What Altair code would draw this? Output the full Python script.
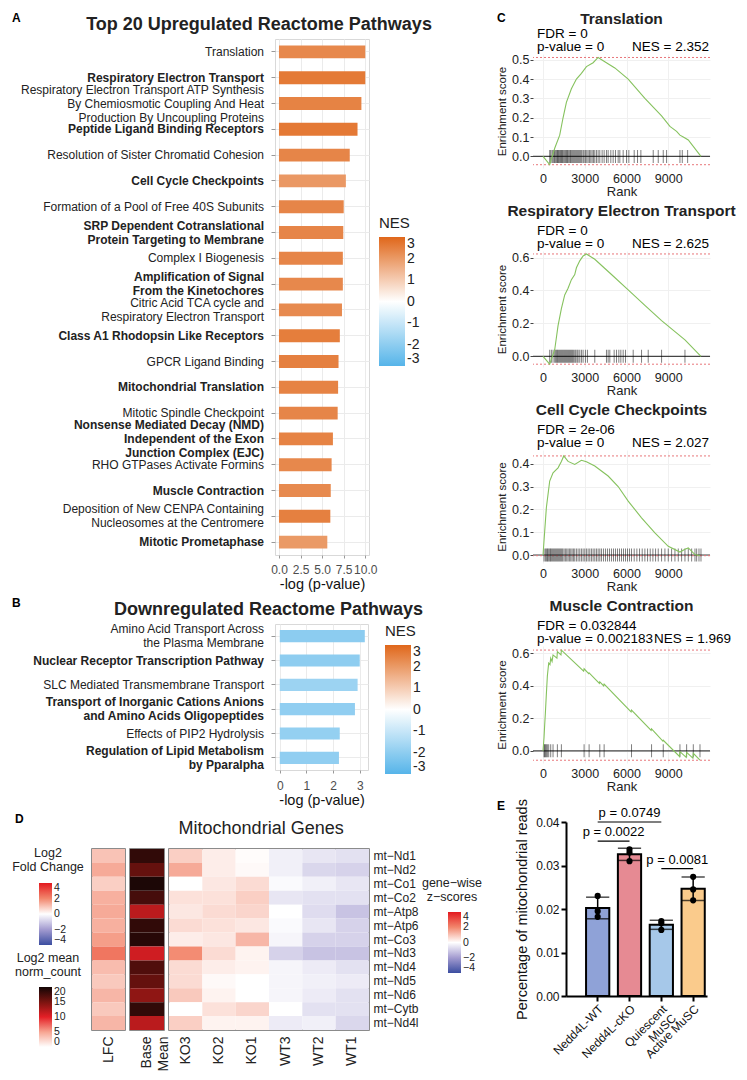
import altair as alt
import pandas as pd

FONT = "Liberation Sans"

# ---------------- Panel A : upregulated pathways ----------------
up_pathways = [
    "Translation",
    "Respiratory Electron Transport",
    "Respiratory Electron Transport ATP Synthesis\nBy Chemiosmotic  Coupling And Heat\nProduction By Uncoupling Proteins",
    "Peptide Ligand Binding Receptors",
    "Resolution of Sister Chromatid Cohesion",
    "Cell Cycle Checkpoints",
    "Formation of a Pool of Free 40S Subunits",
    "SRP Dependent Cotranslational\nProtein Targeting to Membrane",
    "Complex I Biogenesis",
    "Amplification of Signal\nFrom the Kinetochores",
    "Citric Acid TCA cycle and\nRespiratory Electron Transport",
    "Class A1 Rhodopsin Like Receptors",
    "GPCR Ligand Binding",
    "Mitochondrial Translation",
    "Mitotic Spindle Checkpoint",
    "Nonsense Mediated Decay (NMD)\nIndependent of the Exon\nJunction Complex (EJC)",
    "RHO GTPases Activate Formins",
    "Muscle Contraction",
    "Deposition of New CENPA Containing\nNucleosomes at the Centromere",
    "Mitotic Prometaphase",
]
up_logp = [10.0, 10.0, 9.55, 9.1, 8.2, 7.75, 7.5, 7.45, 7.4, 7.4,
           7.3, 7.05, 6.9, 6.85, 6.8, 6.25, 6.1, 6.0, 5.95, 5.6]
up_nes = [2.35, 2.63, 2.45, 2.65, 2.4, 2.03, 2.4, 2.4, 2.4, 2.35,
          2.3, 2.55, 2.5, 2.45, 2.4, 2.45, 2.35, 2.3, 2.5, 2.0]

# ---------------- Panel B : downregulated pathways ----------------
down_pathways = [
    "Amino Acid Transport Across\nthe Plasma Membrane",
    "Nuclear Receptor Transcription Pathway",
    "SLC Mediated Transmembrane Transport",
    "Transport of Inorganic Cations Anions\nand Amino Acids Oligopeptides",
    "Effects of PIP2 Hydrolysis",
    "Regulation of Lipid Metabolism\nby Pparalpha",
]
down_logp = [3.19, 3.0, 2.92, 2.82, 2.25, 2.22]
down_nes = [-2.05, -2.0, -1.75, -1.95, -1.9, -1.95]

# ---------------- Panel C : GSEA running enrichment ----------------
gsea_titles = ["Translation", "Respiratory Electron Transport",
               "Cell Cycle Checkpoints", "Muscle Contraction"]
gsea_fdr = ["FDR = 0", "FDR = 0", "FDR = 2e-06", "FDR = 0.032844"]
gsea_pval = ["p-value = 0", "p-value = 0", "p-value = 0", "p-value = 0.002183"]
gsea_nes = ["NES = 2.352", "NES = 2.625", "NES = 2.027", "NES = 1.969"]

tr_rank = [0, 480, 840, 1200, 1440, 1680, 2040, 2400, 2760, 3120, 3600, 3960,
           4440, 5160, 6120, 7320, 8520, 9120, 9600, 9840, 10080, 10440, 11350]
tr_es = [0, -0.043, 0.042, 0.11, 0.20, 0.28, 0.35, 0.40, 0.43, 0.465, 0.485, 0.512,
         0.49, 0.458, 0.40, 0.30, 0.21, 0.155, 0.13, 0.11, 0.10, 0.085, 0.0]
tr_hits = [480, 552, 648, 720, 792, 840, 912, 984, 1032, 1080, 1128, 1200, 1248,
           1320, 1368, 1416, 1488, 1560, 1632, 1680, 1752, 1800, 1872, 1944, 1992,
           2064, 2136, 2208, 2280, 2352, 2424, 2496, 2568, 2640, 2712, 2784, 2880,
           2952, 3048, 3144, 3240, 3336, 3432, 3528, 3624, 3720, 3840, 3960, 4080,
           4248, 4392, 4560, 4680, 4872, 5040, 5208, 5400, 5520, 5760, 6000, 6168,
           6552, 6792, 7032, 7920, 8280, 8640, 8880, 9840, 10008, 10392]

rs_rank = [0, 480, 840, 1080, 1320, 1560, 1800, 2040, 2280, 2400, 2640, 2880,
           3120, 3720, 4920, 6120, 7320, 8520, 10200, 11350]
rs_es = [0, -0.048, 0.04, 0.186, 0.29, 0.373, 0.414, 0.466, 0.497, 0.538, 0.58,
         0.61, 0.622, 0.59, 0.497, 0.404, 0.31, 0.217, 0.10, 0.0]
rs_hits = [480, 600, 720, 840, 912, 984, 1032, 1104, 1176, 1248, 1320, 1392, 1464,
           1536, 1608, 1680, 1752, 1824, 1896, 1968, 2040, 2112, 2184, 2280, 2352,
           2448, 2520, 2640, 2760, 2880, 3048, 3192, 3720, 4560, 4680, 4800, 5112,
           5280, 5448, 5592, 5760, 5928, 6480, 7080, 7560, 8520, 10200]

cc_rank = [0, 120, 240, 480, 720, 1080, 1320, 1490, 1800, 2280, 2760, 3120, 3720,
           4680, 5400, 6120, 7080, 8040, 9000, 9840, 10200, 10440, 10920, 11280]
cc_es = [0, 0.104, 0.207, 0.324, 0.36, 0.382, 0.41, 0.434, 0.41, 0.397, 0.415,
         0.409, 0.39, 0.346, 0.30, 0.236, 0.163, 0.097, 0.038, 0.013, 0.025, 0.031,
         0.002, -0.003]
cc_hits = [72, 168, 240, 312, 360, 432, 504, 552, 624, 696, 768, 840, 912, 984, 1056,
           1128, 1200, 1272, 1344, 1416, 1512, 1608, 1704, 1800, 1896, 1992, 2088,
           2184, 2280, 2400, 2520, 2640, 2760, 2880, 3000, 3120, 3240, 3360, 3480,
           3600, 3720, 3840, 3960, 4080, 4200, 4344, 4488, 4632, 4776, 4920, 5064,
           5208, 5352, 5496, 5640, 5784, 5928, 6072, 6216, 6360, 6552, 6744, 6936,
           7128, 7320, 7512, 7704, 7896, 8088, 8280, 8520, 8760, 9000, 9240, 9480,
           9720, 9960, 10200, 10440, 10680, 10920, 11040, 11208, 11352]

mc_rank = [0, 72, 120, 168, 240, 312, 408, 500, 552, 650, 720, 1000, 1032, 1290,
           1320, 2920, 2952, 3280, 3312, 4050, 4080, 4360, 4392, 6330, 6360, 7770,
           7800, 8610, 8640, 9810, 9840, 10290, 10320, 10770, 10800, 11280]
mc_es = [0, 0.08, 0.16, 0.23, 0.35, 0.46, 0.54, 0.53, 0.57, 0.55, 0.59, 0.57, 0.61,
         0.59, 0.62, 0.49, 0.505, 0.475, 0.48, 0.415, 0.425, 0.40, 0.41, 0.24, 0.25,
         0.125, 0.135, 0.06, 0.065, -0.035, -0.005, -0.04, -0.01, -0.045, -0.015,
         -0.058]
mc_hits = [72, 120, 168, 240, 312, 408, 552, 720, 1032, 1320, 2952, 3312, 4080,
           4392, 6360, 7800, 8640, 9840, 10320, 10800, 11280]

# ---------------- Panel D : mitochondrial genes heatmap ----------------
genes = ["mt\u2212Nd1", "mt\u2212Nd2", "mt\u2212Co1", "mt\u2212Co2", "mt\u2212Atp8",
         "mt\u2212Atp6", "mt\u2212Co3", "mt\u2212Nd3", "mt\u2212Nd4", "mt\u2212Nd5",
         "mt\u2212Nd6", "mt\u2212Cytb", "mt\u2212Nd4l"]
lfc = [1.0, 1.4, 0.8, 1.3, 1.4, 1.3, 1.6, 2.3, 1.1, 0.9, 1.2, 0.9, 1.2]
base_mean = [18.5, 16.0, 19.5, 17.5, 12.0, 18.5, 19.0, 11.0, 17.0, 16.0, 14.0, 18.5, 12.0]
samples = ["KO3", "KO2", "KO1", "WT3", "WT2", "WT1"]
z_KO3 = [0.8, 1.4, 0.0, 0.5, 0.4, 0.6, 0.3, 1.9, 0.6, 0.6, 0.9, 0.0, 0.8]
z_KO2 = [0.3, 0.3, 0.4, 0.5, 0.6, 0.5, 0.4, 0.6, 0.3, 0.1, 0.2, 0.5, 0.2]
z_KO1 = [0.05, 0.1, 0.6, 0.8, 0.7, 0.4, 1.2, 0.2, 0.2, 0.0, 0.0, 0.7, 0.2]
z_WT3 = [-0.3, -0.3, -0.1, -0.5, 0.0, -0.1, -0.2, -0.9, -0.2, -0.2, -0.2, 0.0, -0.4]
z_WT2 = [-0.5, -0.8, -0.3, -0.6, -0.7, -0.5, -0.9, -1.2, -0.4, -0.3, -0.4, -0.6, -0.3]
z_WT1 = [-0.6, -0.9, -0.5, -0.6, -1.2, -0.9, -0.9, -1.2, -0.6, -0.4, -0.6, -0.6, -0.8]

# ---------------- Panel E : mitochondrial reads ----------------
e_groups = ["Nedd4L-WT", "Nedd4L-cKO", "Quiescent\nMuSC", "Active MuSC"]
e_rep1 = [0.0230, 0.0337, 0.0172, 0.0274]
e_rep2 = [0.0195, 0.0330, 0.0167, 0.0245]
e_rep3 = [0.0182, 0.0310, 0.0152, 0.0220]
cmp_from = ["Nedd4L-WT", "Nedd4L-WT", "Quiescent\nMuSC"]
cmp_to = ["Nedd4L-cKO", "Quiescent\nMuSC", "Active MuSC"]
cmp_y = [0.0356, 0.0400, 0.0293]
cmp_text = ["p = 0.0022", "p = 0.0749", "p = 0.0081"]

E_COLORS = ["#8FA2D7", "#E68A93", "#A6C8E9", "#FACB8C"]
GREEN = "#86C25E"

NES_SCALE = alt.Scale(domain=[-3, 0, 3], range=["#56B4E9", "#FFFFFF", "#E0671A"],
                      interpolate="rgb")
INDEP = dict(color="independent", x="independent", y="independent")


def letter_mark(letter, x, y):
    return alt.Chart(pd.DataFrame({"t": [letter]})).mark_text(
        fontWeight="bold", fontSize=12, align="left", baseline="top", color="black"
    ).encode(text="t:N", x=alt.value(x), y=alt.value(y))


def pad_mark(x, y):
    # invisible point that only reserves layout room
    return alt.Chart(pd.DataFrame({"a": [0]})).mark_point(opacity=0, size=1).encode(
        x=alt.value(x), y=alt.value(y))


def spacer():
    return pad_mark(0, 0).properties(width=1, height=1)


def shifted(ch):
    # an invisible 1px anchor first, so panels in one column line up by their left bounds
    return alt.hconcat(spacer(), ch, spacing=0).resolve_scale(**INDEP)


def pathway_panel(names, logp, nes, title, width, height, xdomain, xticks, xfmt,
                  legend_x, legend_y, grad_len, letter, title_dx, title_offset,
                  label_pad):
    keys = [f"{i:02d}" for i in range(len(names))]
    df = pd.DataFrame({"key": keys, "logp": logp, "nes": nes})
    yaxis = alt.Axis(labels=False, title=None, tickSize=4, tickColor="#999",
                     domain=False, grid=True, gridColor="#EBEBEB")
    yenc = alt.Y("key:N", sort=keys, title=None,
                 scale=alt.Scale(paddingInner=0.5, paddingOuter=0.25), axis=yaxis)
    bars = alt.Chart(df).mark_bar().encode(
        y=yenc,
        x=alt.X("logp:Q", title="-log (p-value)",
                scale=alt.Scale(domain=xdomain, nice=False, zero=False),
                axis=alt.Axis(values=xticks, format=xfmt, labelFontSize=12,
                              labelColor="#4D4D4D", titleFontSize=14.5,
                              titleFontWeight="normal", titleColor="#111",
                              domain=False, tickSize=3, tickColor="#999", grid=True,
                              gridColor="#EBEBEB", titlePadding=2,
                              labelPadding=label_pad, labelOverlap=False)),
        color=alt.Color("nes:Q", scale=NES_SCALE, legend=alt.Legend(
            title="NES", orient="none", legendX=legend_x, legendY=legend_y,
            direction="vertical", gradientLength=grad_len, gradientThickness=26,
            values=[3, 2, 1, 0, -1, -2, -3], labelExpr="'' + datum.value",
            labelFontSize=14, titleFontSize=15, titleFontWeight="normal",
            labelColor="#222", titleColor="#222", titlePadding=6,
            gradientStrokeWidth=0, labelOverlap=False)),
    )
    rows = []
    for i, (k, name) in enumerate(zip(keys, names)):
        lines = name.split("\n")
        for j, line in enumerate(lines):
            rows.append({"key": k, "line": line, "j": j, "n": len(lines),
                         "bold": i % 2 == 1})
    lab_df = pd.DataFrame(rows)
    labels = alt.Chart(lab_df).mark_text(
        align="right", baseline="middle", fontSize=12, color="#222",
        dy={"expr": "(datum.j - (datum.n - 1) / 2) * 14"},
        fontWeight={"expr": "datum.bold ? 'bold' : 'normal'"},
    ).encode(y=yenc, x=alt.value(-11), text="line:N")
    return alt.layer(bars, labels, letter_mark(letter, -263, -26)).properties(
        width=width, height=height,
        view=alt.ViewBackground(stroke="#D9D9D9"),
        title=alt.TitleParams(title, fontSize=18, fontWeight="bold", anchor="middle",
                              frame="group", dx=title_dx, offset=title_offset,
                              color="#222"))


panel_a = pathway_panel(up_pathways, up_logp, up_nes,
                        "Top 20 Upregulated Reactome Pathways", 94, 516,
                        [-0.46, 10.43], [0, 2.5, 5, 7.5, 10], ".1f",
                        104, 177, 129, "A", -63, -22, 6)
panel_b = pathway_panel(down_pathways, down_logp, down_nes,
                        "Downregulated Reactome Pathways", 93, 146,
                        [-0.18, 3.31], [0, 1, 2, 3], "d",
                        110, 0, 129, "B", -53, -22, 7)


# ---------------- GSEA panels ----------------
def gsea_panel(i, rank, es, hits, ystep, ydomain, height, letter=None):
    xscale = alt.Scale(domain=[-720, 12000], nice=False, zero=False)
    yscale = alt.Scale(domain=ydomain, nice=False, zero=False)
    xenc = alt.X("rank:Q", scale=xscale, axis=alt.Axis(
        values=[0, 3000, 6000, 9000], format="d", title="Rank", labelFontSize=12.5,
        titleFontSize=13, titleFontWeight="normal", labelColor="#222",
        titleColor="#222", domain=False, ticks=False, grid=True, gridColor="#F0F0F0",
        labelPadding=4, titlePadding=1, labelOverlap=False))
    yenc = alt.Y("es:Q", scale=yscale, axis=alt.Axis(
        tickMinStep=ystep, tickCount=int(round((ydomain[1] - ydomain[0]) / ystep)),
        format=".1f", title="Enrichment score", labelFontSize=12.5,
        titleFontSize=11.5, titleFontWeight="normal", labelColor="#222",
        titleColor="#222", domain=False, ticks=True, tickSize=3, tickColor="#444",
        grid=True, gridColor="#F0F0F0", labelPadding=1, titlePadding=4,
        labelOverlap=False, labelSeparation=0))
    zero = alt.Chart(pd.DataFrame({"es": [0.0]})).mark_rule(
        color="#444", strokeWidth=1.2).encode(y=yenc)
    lims = alt.Chart(pd.DataFrame({"es": [max(es), min(es)]})).mark_rule(
        color="#E8767A", strokeDash=[2, 2], strokeWidth=1).encode(y=yenc)
    ticks = alt.Chart(pd.DataFrame({"rank": hits, "es": [0.0] * len(hits)})).mark_tick(
        orient="vertical", size=13, thickness=1, color="black", opacity=0.5
    ).encode(x=xenc, y=yenc)
    curve = alt.Chart(pd.DataFrame({"rank": rank, "es": es})).mark_line(
        color=GREEN, strokeWidth=1.1).encode(x=xenc, y=yenc)

    def txt(s, x, y, align="left"):
        return alt.Chart(pd.DataFrame({"t": [s]})).mark_text(
            align=align, baseline="middle", fontSize=13.5, color="black"
        ).encode(text="t:N", x=alt.value(x), y=alt.value(y))

    nes_x = 99 if len(gsea_pval[i]) < 14 else 121
    layers = [zero, lims, ticks, curve,
              txt(gsea_fdr[i], 4, -20), txt(gsea_pval[i], 4, -7),
              txt(gsea_nes[i], nes_x, -7)]
    offset = 5
    if letter:
        layers.append(letter_mark(letter, -36, -41))
        offset = -15
    return alt.layer(*layers).properties(
        width=177, height=height,
        title=alt.TitleParams(gsea_titles[i], fontSize=15.5, fontWeight="bold",
                              anchor="middle", frame="group", offset=offset,
                              color="#222"))


c1 = gsea_panel(0, tr_rank, tr_es, tr_hits, 0.1, [-0.06, 0.53], 114, letter="C")
c2 = gsea_panel(1, rs_rank, rs_es, rs_hits, 0.2, [-0.065, 0.64], 116)
c3 = gsea_panel(2, cc_rank, cc_es, cc_hits, 0.1, [-0.035, 0.46], 113)
c4 = gsea_panel(3, mc_rank, mc_es, mc_hits, 0.2, [-0.075, 0.645], 117)

# ---------------- Heatmap panel D ----------------
HEAT_DIV = alt.Scale(domain=[-4, -2, 0, 2, 4],
                     range=["#3B4DA0", "#A39BD0", "#FFFFFF", "#F2866C", "#E3191E"],
                     interpolate="rgb")
BM_SCALE = alt.Scale(domain=[0, 5, 10, 15, 20],
                     range=["#FFFFFF", "#F7A592", "#E41F26", "#7A1410", "#120505"],
                     interpolate="rgb")
HEAT_H = 181
cell_axis = dict(title=None, labelAngle=-90, labelFontSize=14, labelColor="#222",
                 ticks=False, domain=False, labelPadding=6,
                 labelExpr="split(datum.label, '\\n')", labelLineHeight=17)
legend_common = dict(orient="none", title=None, direction="vertical",
                     gradientThickness=13, labelFontSize=10.5, labelColor="#222",
                     gradientStrokeWidth=0, labelOverlap=False)
frame = alt.ViewBackground(stroke="#666666", strokeWidth=1.5)


def title_text(s, x, y):
    return alt.Chart(pd.DataFrame({"t": [s]})).mark_text(
        align="center", baseline="top", fontSize=12.5, lineHeight=14, color="#222",
        lineBreak="\n").encode(text="t:N", x=alt.value(x), y=alt.value(y))


lfc_df = pd.DataFrame({"gene": genes, "col": ["LFC"] * len(genes), "v": lfc})
lfc_rect = alt.Chart(lfc_df).mark_rect().encode(
    x=alt.X("col:N", axis=alt.Axis(**cell_axis)),
    y=alt.Y("gene:N", sort=genes, axis=None),
    color=alt.Color("v:Q", scale=HEAT_DIV, legend=alt.Legend(
        legendX=-53, legendY=34, gradientLength=62, values=[4, 2, 0, -2, -4],
        **legend_common)))
lfc_chart = alt.layer(
    lfc_rect,
    title_text("Log2\nFold Change", -44, -2),
    title_text("Log2 mean\nnorm_count", -44, 103),
    letter_mark("D", -77, -35),
).properties(width=33, height=HEAT_H, view=frame)

bm_df = pd.DataFrame({"gene": genes, "col": ["Base\nMean"] * len(genes), "v": base_mean})
bm_chart = alt.Chart(bm_df).mark_rect().encode(
    x=alt.X("col:N", axis=alt.Axis(**cell_axis)),
    y=alt.Y("gene:N", sort=genes, axis=None),
    color=alt.Color("v:Q", scale=BM_SCALE, legend=alt.Legend(
        legendX=-91, legendY=138, gradientLength=60, values=[20, 15, 10, 5, 0],
        **legend_common)),
).properties(width=34, height=HEAT_H, view=frame)

z_cols = [z_KO3, z_KO2, z_KO1, z_WT3, z_WT2, z_WT1]
z_rows = []
for s, col in zip(samples, z_cols):
    for g, v in zip(genes, col):
        z_rows.append({"sample": s, "gene": g, "z": v})
z_df = pd.DataFrame(z_rows)
z_rect = alt.Chart(z_df).mark_rect().encode(
    x=alt.X("sample:N", sort=samples, axis=alt.Axis(**cell_axis)),
    y=alt.Y("gene:N", sort=genes, axis=alt.Axis(
        orient="right", title=None, ticks=False, domain=False, labelFontSize=12,
        labelColor="#222", labelPadding=4)),
    color=alt.Color("z:Q", scale=HEAT_DIV, legend=alt.Legend(
        legendX=279, legendY=63, gradientLength=61, values=[4, 2, 0, -2, -4],
        **legend_common)))
z_chart = alt.layer(z_rect, title_text("gene\u2212wise\nz\u2212scores", 283, 28)).properties(
    width=200, height=HEAT_H, view=frame)

panel_d = alt.hconcat(lfc_chart, bm_chart, z_chart, spacing=5, bounds="flush").resolve_scale(
    **INDEP
).properties(title=alt.TitleParams("Mitochondrial Genes", fontSize=18,
                                   fontWeight="normal", anchor="middle", dx=14,
                                   offset=-26, color="#222"))

# ---------------- Panel E ----------------
e_rows = []
for reps in (e_rep1, e_rep2, e_rep3):
    for g, v in zip(e_groups, reps):
        e_rows.append({"group": g, "value": v})
e_df = pd.DataFrame(e_rows)
E_W = 141
P_IN, P_OUT = 0.27, 0.35
e_step = E_W / (len(e_groups) - P_IN + 2 * P_OUT)
E_X = alt.Scale(domain=e_groups, paddingInner=P_IN, paddingOuter=P_OUT, align=0.9)
e_xaxis = alt.Axis(title=None, labelAngle=-45, labelFontSize=12, labelColor="#111",
                   labelExpr="split(datum.label, '\\n')", labelLineHeight=13,
                   domainColor="black", domainWidth=2, tickColor="black", tickWidth=2,
                   tickSize=5)
e_yaxis = alt.Axis(title="Percentage of mitochondrial reads", values=[0, 0.01, 0.02, 0.03, 0.04],
                   format=".2f", labelFontSize=12, labelColor="#111", titleFontSize=14.5,
                   titleFontWeight="normal", titleColor="#111", domainColor="black",
                   domainWidth=2, tickColor="black", tickWidth=2, tickSize=5, grid=False,
                   titlePadding=6)
e_yscale = alt.Scale(domain=[0, 0.04], nice=False)
e_bars = alt.Chart(e_df).mark_bar(stroke="black", strokeWidth=2).encode(
    x=alt.X("group:N", sort=e_groups, scale=E_X, axis=e_xaxis),
    y=alt.Y("mean(value):Q", scale=e_yscale, axis=e_yaxis),
    color=alt.Color("group:N", scale=alt.Scale(domain=e_groups, range=E_COLORS), legend=None))
e_err = alt.Chart(e_df).mark_errorbar(extent="stdev", ticks=True, color="black",
                                      thickness=1.5).encode(
    x=alt.X("group:N", sort=e_groups, scale=E_X, axis=e_xaxis),
    y=alt.Y("value:Q", scale=e_yscale, axis=e_yaxis))
e_pts = alt.Chart(e_df).mark_circle(size=38, color="black", opacity=1).encode(
    x=alt.X("group:N", sort=e_groups, scale=E_X, axis=e_xaxis),
    y=alt.Y("value:Q", scale=e_yscale, axis=e_yaxis))
cmp_df = pd.DataFrame({"from": cmp_from, "to": cmp_to, "y": cmp_y, "t": cmp_text})
e_rules = alt.Chart(cmp_df).mark_rule(color="black", strokeWidth=1.2).encode(
    x=alt.X("from:N", sort=e_groups, scale=E_X, axis=e_xaxis),
    x2="to:N",
    y=alt.Y("y:Q", scale=e_yscale, axis=e_yaxis))
e_layers = [e_bars, e_err, e_pts, e_rules]
for k in range(len(cmp_from)):
    span = e_groups.index(cmp_to[k]) - e_groups.index(cmp_from[k])
    e_layers.append(alt.Chart(cmp_df.iloc[[k]]).mark_text(
        fontSize=13, baseline="bottom", dy=-2, dx=span * e_step / 2, color="black"
    ).encode(x=alt.X("from:N", sort=e_groups, scale=E_X, axis=e_xaxis),
             y=alt.Y("y:Q", scale=e_yscale, axis=e_yaxis), text="t:N"))
e_layers.append(letter_mark("E", -69, -21))
panel_e = alt.layer(*e_layers).properties(width=E_W, height=174)

# ---------------- Assemble ----------------
left_stack = alt.vconcat(shifted(panel_a), shifted(panel_b), shifted(panel_d),
                         spacing=5).resolve_scale(**INDEP)
right_stack = alt.vconcat(shifted(c1), shifted(c2), shifted(c3), shifted(c4),
                          shifted(panel_e), spacing=4).resolve_scale(**INDEP)
left = alt.vconcat(spacer(), left_stack, spacing=0).resolve_scale(**INDEP)
right = alt.vconcat(spacer(), right_stack, spacing=0).resolve_scale(**INDEP)
chart = alt.hconcat(left, right, spacing=10).resolve_scale(**INDEP).configure(
    font=FONT, padding={"left": 0, "top": 0, "right": 0, "bottom": 0}
).configure_view(stroke="transparent").configure_axis(labelOverlap=False)

chart.save("out.html", embed_options={"renderer": "svg", "actions": False})
